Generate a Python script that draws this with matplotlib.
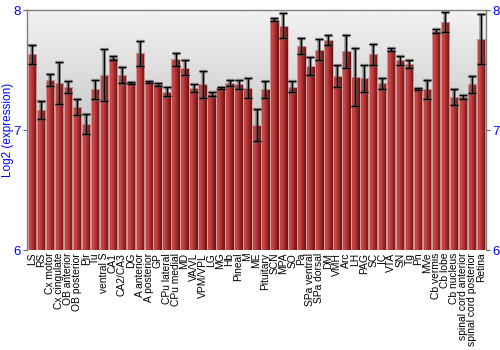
import numpy as np
import matplotlib
matplotlib.use("Agg")
import matplotlib.pyplot as plt
from matplotlib.colors import LinearSegmentedColormap

categories = ["LS", "RS", "Cx motor", "Cx cingulate", "OB anterior", "OB posterior", "Pir", "Tu",
              "ventral S", "CA1", "CA2/CA3", "DG", "A anterior", "A posterior", "GP", "CPu lateral",
              "CPu medial", "MD", "VA/VL", "VPM/VPL", "LG", "MG", "Hb", "Pineal", "M", "ME",
              "Pituitary", "SCN", "MPA", "SO", "Pa", "SPa ventral", "SPa dorsal", "DM", "VMH", "Arc",
              "LH", "PAG", "SC", "IC", "VTA", "SN", "Tg", "Pn", "MVe", "Cb vermis", "Cb lobe",
              "Cb nucleus", "spinal cord anterior", "spinal cord posterior", "Retina"]

values = [7.63, 7.17, 7.42, 7.39, 7.36, 7.19, 7.05, 7.34,
          7.46, 7.60, 7.46, 7.39, 7.64, 7.40, 7.38, 7.32,
          7.59, 7.52, 7.35, 7.38, 7.30, 7.35, 7.39, 7.38, 7.35, 7.04,
          7.34, 7.92, 7.87, 7.36, 7.70, 7.53, 7.67, 7.75, 7.45, 7.655,
          7.44, 7.43, 7.63, 7.39, 7.67, 7.58, 7.55, 7.34, 7.34, 7.825, 7.90,
          7.275, 7.275, 7.38, 7.76]

errors = [0.08, 0.075, 0.05, 0.175, 0.05, 0.065, 0.085, 0.08,
          0.215, 0.02, 0.065, 0.01, 0.105, 0.01, 0.01, 0.035,
          0.055, 0.06, 0.035, 0.11, 0.015, 0.01, 0.025, 0.04, 0.08, 0.135,
          0.07, 0.015, 0.105, 0.045, 0.07, 0.075, 0.085, 0.045, 0.09, 0.14,
          0.24, 0.11, 0.085, 0.045, 0.015, 0.035, 0.03, 0.01, 0.08, 0.02, 0.085,
          0.07, 0.015, 0.07, 0.21]

y_ticks = [6, 7, 8]
y_label = "Log2 (expression)"

fig = plt.figure(figsize=(5, 3.5), dpi=100)
ax = fig.add_axes([0.0546, 0.2857, 0.9168, 0.6857])

n = len(categories)
x = np.arange(n)
ax.set_xlim(-0.5, n - 0.5)
ax.set_ylim(6, 8)

# background gradient
grad = np.linspace(0.95, 0.62, 256).reshape(-1, 1)
ax.imshow(grad, cmap="gray", vmin=0, vmax=1, aspect="auto",
          extent=[-0.5, n - 0.5, 6, 8], origin="upper", zorder=0)
ax.axhline(7, color="white", lw=1, alpha=0.6, zorder=1)

cmap = LinearSegmentedColormap.from_list(
    "barg", [(0.0, "#b53838"), (0.25, "#cc4a4a"), (0.5, "#b03434"), (1.0, "#6a1010")])
hgrad = np.linspace(0, 1, 64).reshape(1, -1)

bars = ax.bar(x, values, width=0.92, bottom=0, color="none",
              edgecolor="#d8a8a8", linewidth=0.6, zorder=3)
for b in bars:
    x0 = b.get_x()
    w = b.get_width()
    h = b.get_height()
    im = ax.imshow(hgrad, cmap=cmap, aspect="auto",
                   extent=[x0, x0 + w, 6, h], zorder=2)
    im.set_clip_path(b)

# error bars with shadow
ax.errorbar(x, values, yerr=errors, fmt="none", ecolor="#606060", alpha=0.55,
            elinewidth=2.6, capsize=3.2, capthick=2.4, zorder=4)
ax.errorbar(x, values, yerr=errors, fmt="none", ecolor="black",
            elinewidth=1.0, capsize=2.8, capthick=1.0, zorder=5)

ax.set_xticks(x)
ax.set_xticklabels(categories, rotation=90, fontsize=7.4, family="Liberation Sans")
ax.tick_params(axis="x", length=0, pad=2)
ax.set_yticks(y_ticks)
ax.set_yticklabels([str(t) for t in y_ticks])
ax.tick_params(axis="y", colors="#606060", labelcolor="blue", labelsize=9.5, length=3, pad=1.5,
               left=True, right=True, labelleft=True, labelright=True, direction="out")
for lab in ax.get_yticklabels():
    lab.set_family("Liberation Sans")
ax.set_ylabel(y_label, color="blue", fontsize=8.5, family="Liberation Sans", labelpad=0)

for s in ["left", "right", "top"]:
    ax.spines[s].set_color("#808080")
    ax.spines[s].set_linewidth(1.0)
ax.spines["bottom"].set_visible(False)

fig.savefig("out.png", dpi=100)
